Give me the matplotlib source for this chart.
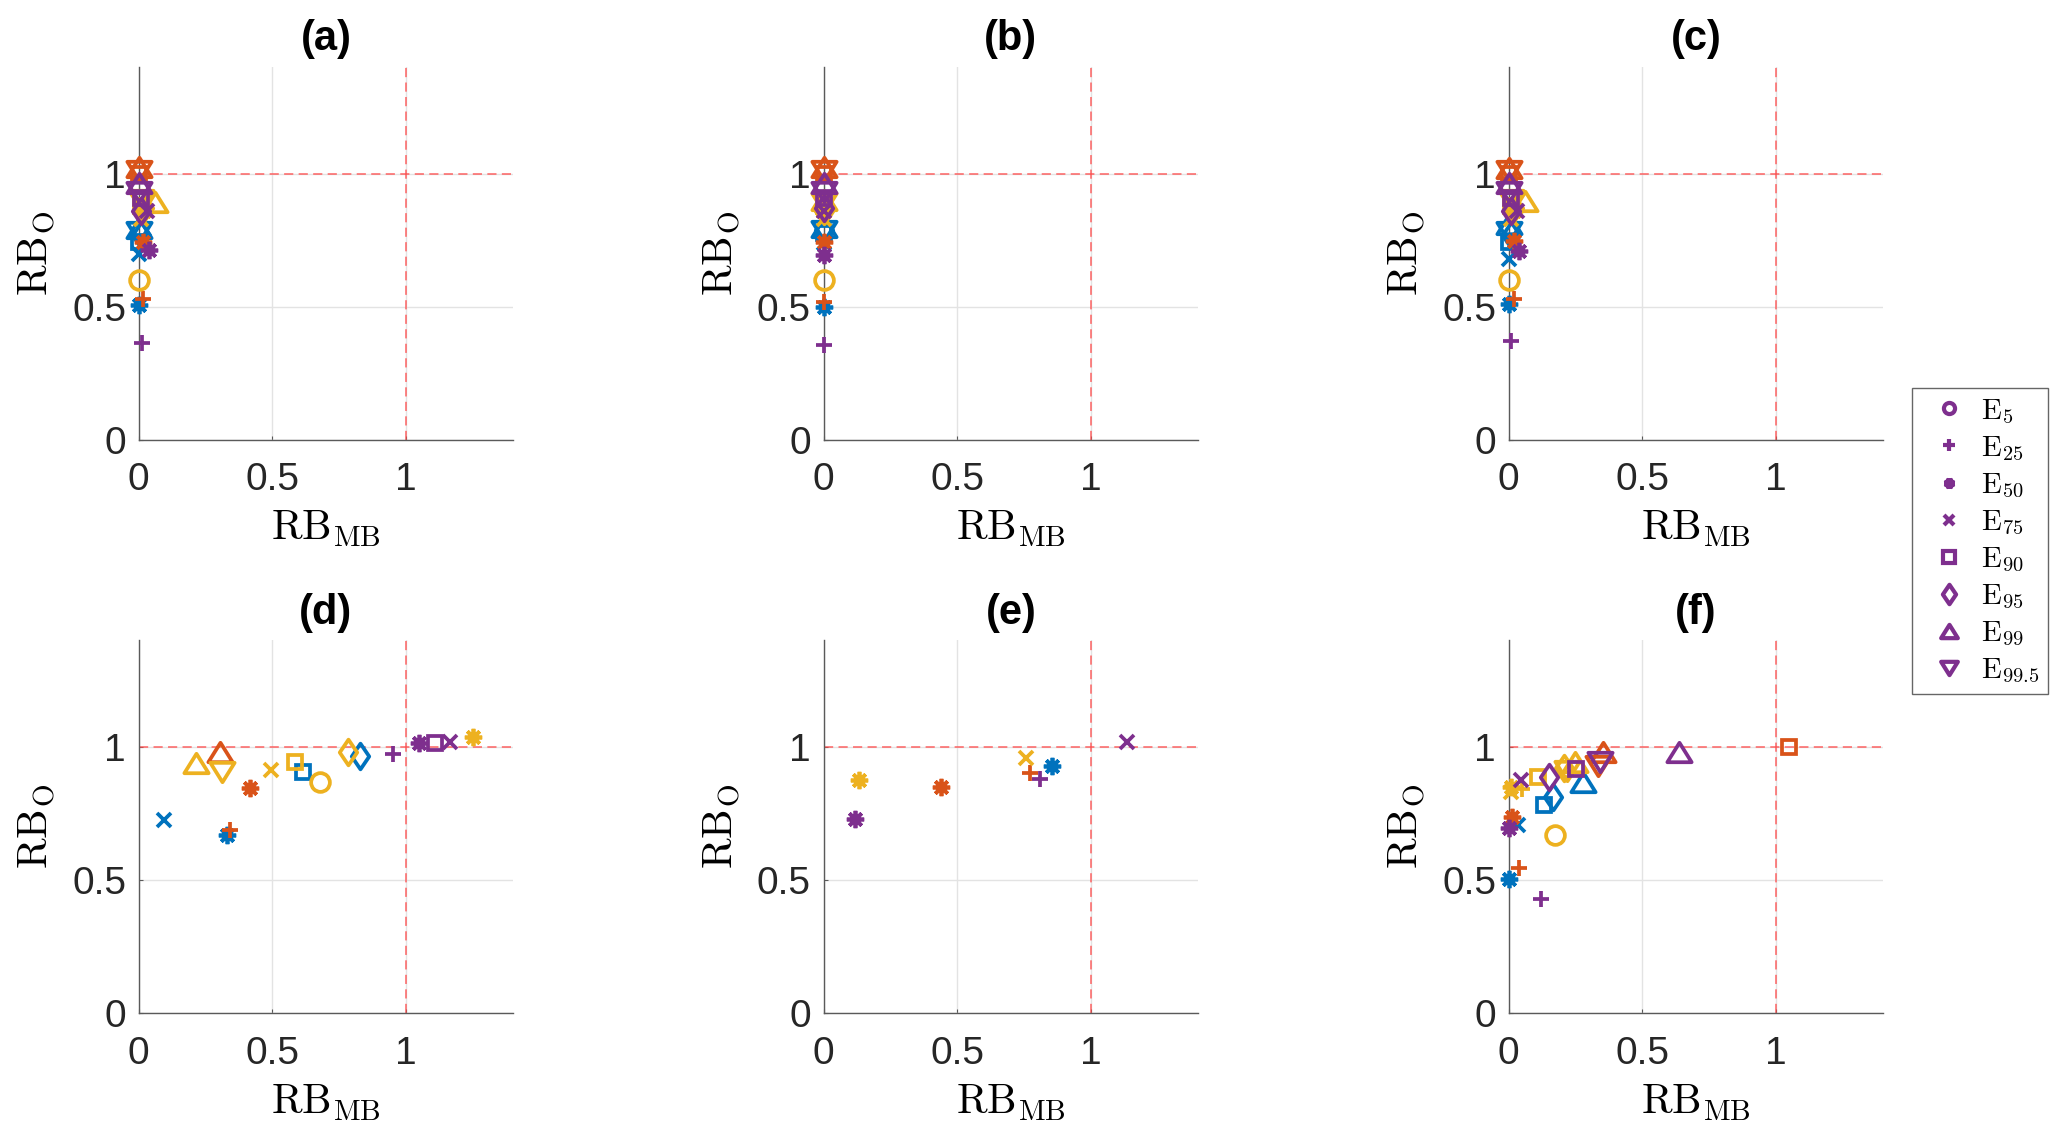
import numpy as np
import matplotlib.pyplot as plt
from matplotlib.path import Path
from matplotlib.lines import Line2D

plt.rcParams['font.family'] = ['Liberation Sans', 'DejaVu Sans']
plt.rcParams['mathtext.fontset'] = 'cm'

N = np.nan

# order of the markers / levels
levels = [r'$\mathrm{E}_{5}$', r'$\mathrm{E}_{25}$', r'$\mathrm{E}_{50}$', r'$\mathrm{E}_{75}$',
          r'$\mathrm{E}_{90}$', r'$\mathrm{E}_{95}$', r'$\mathrm{E}_{99}$', r'$\mathrm{E}_{99.5}$']
titles = ['(a)', '(b)', '(c)', '(d)', '(e)', '(f)']
colors = ['#0072BD', '#D95319', '#EDB120', '#7E2F8E']

# rows = blue, orange, yellow, purple ; cols = E5 E25 E50 E75 E90 E95 E99 E99.5
a_x = [[N, N, 0.0, 0.0, 0.0, 0.01, 0.0, 0.0],
       [N, 0.016, 0.016, N, 0.0, N, 0.0, 0.0],
       [0.0, 0.02, 0.02, 0.01, 0.01, 0.02, 0.06, 0.01],
       [N, 0.014, 0.04, 0.03, 0.01, 0.01, 0.0, 0.0]]
a_y = [[N, N, 0.506, 0.70, 0.745, 0.77, 0.795, 0.78],
       [N, 0.531, 0.744, N, 1.0, N, 1.025, 1.01],
       [0.60, 0.84, 0.86, 0.83, 0.88, 0.87, 0.894, 0.90],
       [N, 0.363, 0.712, 0.86, 0.91, 0.86, 0.964, 0.93]]

b_x = [[N, N, 0.0, 0.0, 0.0, 0.0, 0.0, 0.0],
       [N, 0.0, 0.0, N, 0.0, N, 0.0, 0.0],
       [0.0, 0.0, 0.0, 0.0, 0.0, 0.0, 0.0, 0.0],
       [N, 0.0, 0.0, 0.0, 0.0, 0.0, 0.0, 0.0]]
b_y = [[N, N, 0.50, 0.74, 0.776, 0.79, 0.80, 0.785],
       [N, 0.519, 0.744, N, 1.0, N, 1.025, 1.01],
       [0.60, 0.84, 0.87, 0.83, 0.88, 0.86, 0.90, 0.89],
       [N, 0.356, 0.694, 0.86, 0.91, 0.87, 0.964, 0.93]]

c_x = [[N, N, 0.0, 0.0, 0.0, 0.01, 0.0, 0.0],
       [N, 0.02, 0.022, N, 0.0, N, 0.0, 0.0],
       [0.0, 0.02, 0.02, 0.01, 0.01, 0.02, 0.06, 0.01],
       [N, 0.01, 0.04, 0.03, 0.01, 0.01, 0.0, 0.0]]
c_y = [[N, N, 0.51, 0.681, 0.745, 0.77, 0.81, 0.78],
       [N, 0.53, 0.748, N, 1.0, N, 1.02, 1.01],
       [0.60, 0.84, 0.86, 0.83, 0.88, 0.87, 0.897, 0.90],
       [N, 0.37, 0.711, 0.86, 0.91, 0.86, 0.966, 0.93]]

d_x = [[N, N, 0.33, 0.097, 0.616, 0.828, N, N],
       [N, 0.34, 0.415, N, N, N, 0.305, N],
       [0.679, N, 1.249, 0.496, 0.583, 0.784, 0.216, 0.313],
       [N, 0.95, 1.047, 1.162, 1.106, N, N, N]]
d_y = [[N, N, 0.669, 0.726, 0.907, 0.964, N, N],
       [N, 0.688, 0.845, N, N, N, 0.982, N],
       [0.870, N, 1.036, 0.914, 0.942, 0.979, 0.939, 0.907],
       [N, 0.973, 1.016, 1.02, 1.016, N, N, N]]

e_x = [[N, N, 0.853, N, N, N, N, N],
       [N, 0.772, 0.44, N, N, N, N, N],
       [N, N, 0.132, 0.757, N, N, N, N],
       [N, 0.807, 0.116, 1.133, N, N, N, N]]
e_y = [[N, N, 0.929, N, N, N, N, N],
       [N, 0.901, 0.848, N, N, N, N, N],
       [N, N, 0.876, 0.958, N, N, N, N],
       [N, 0.879, 0.728, 1.02, N, N, N, N]]

f_x = [[N, N, 0.0, 0.035, 0.134, 0.166, 0.278, N],
       [N, 0.041, 0.014, N, 1.047, N, 0.353, 0.335],
       [0.172, 0.05, 0.01, 0.01, 0.11, 0.209, 0.247, 0.22],
       [N, 0.12, 0.0, 0.047, 0.253, 0.153, 0.636, 0.34]]
f_y = [[N, N, 0.503, 0.707, 0.782, 0.811, 0.87, N],
       [N, 0.544, 0.738, N, 1.0, N, 0.982, 0.93],
       [0.669, 0.84, 0.851, 0.83, 0.886, 0.92, 0.945, 0.91],
       [N, 0.429, 0.694, 0.876, 0.916, 0.888, 0.982, 0.945]]

panels_x = [a_x, b_x, c_x, d_x, e_x, f_x]
panels_y = [a_y, b_y, c_y, d_y, e_y, f_y]


def poly(pts):
    return Path(pts + [pts[0]], closed=True)


diamond = poly([(0, 1), (0.68, 0), (0, -1), (-0.68, 0)])
tri_up = poly([(0, 0.8), (-1, -0.8), (1, -0.8)])
tri_dn = poly([(0, -0.8), (1, 0.8), (-1, 0.8)])
asterisk = (8, 2, 0)

markers = ['o', '+', asterisk, 'x', 's', diamond, tri_up, tri_dn]
msizes = [13.5, 11.5, 12.5, 10, 10.5, 18.5, 17.5, 17.5]
leg_sizes = [8, 8.5, 7.5, 7, 8, 14, 12, 12]

fig = plt.figure(figsize=(20.67, 11.40), dpi=100)

lefts = [138.5, 823.5, 1508.5]
bottoms = [440, 1013.3]
W, H = 2067.0, 1140.0
aw = 374.8
ah = 373.0

axes = []
for r in range(2):
    for c in range(3):
        ax = fig.add_axes([lefts[c] / W, 1 - bottoms[r] / H, aw / W, ah / H])
        axes.append(ax)

for i, ax in enumerate(axes):
    ax.set_xlim(0, 1.4)
    ax.set_ylim(0, 1.4)
    ax.set_xticks([0, 0.5, 1])
    ax.set_yticks([0, 0.5, 1])
    ax.set_xticklabels(['0', '0.5', '1'])
    ax.set_yticklabels(['0', '0.5', '1'])
    ax.grid(True, color='#e3e3e3', lw=1.0, zorder=0)
    ax.set_axisbelow(True)
    for s in ['top', 'right']:
        ax.spines[s].set_visible(False)
    for s in ['left', 'bottom']:
        ax.spines[s].set_color('#5a5a5a')
        ax.spines[s].set_linewidth(1.0)
    ax.tick_params(direction='in', length=3, width=0.8, color='#5a5a5a',
                   labelcolor='#262626', labelsize=28)
    ax.tick_params(axis='x', pad=16)
    ax.tick_params(axis='y', pad=9)

    ax.axhline(1, color='#ff4a4a', lw=1.1, dashes=(6, 3.5), alpha=0.85, zorder=2)
    ax.axvline(1, color='#ff4a4a', lw=1.1, dashes=(6, 3.5), alpha=0.85, zorder=2)

    px = panels_x[i]
    py = panels_y[i]
    for c in range(4):
        for m in range(8):
            ax.plot(px[c][m], py[c][m], ls='none', marker=markers[m], ms=msizes[m],
                    mec=colors[c], mfc='none', mew=2.7, clip_on=False, zorder=3)

    ax.set_title(titles[i], fontsize=30, fontweight='bold', pad=12)
    ax.set_xlabel(r'$\mathrm{RB}_{\mathrm{MB}}$', fontsize=30, labelpad=8)
    ax.set_ylabel(r'$\mathrm{RB}_{\mathrm{O}}$', fontsize=30, labelpad=10)

handles = []
for m in range(8):
    mew = 4.0 if m == 2 else 3.0
    handles.append(Line2D([], [], ls='none', marker=markers[m], ms=leg_sizes[m],
                          mec=colors[3], mfc='none', mew=mew))

leg = fig.legend(handles, levels, loc='center', bbox_to_anchor=(1980 / W, 1 - 541 / H),
                 fontsize=21, frameon=True, fancybox=False, framealpha=1,
                 borderpad=0.3, handlelength=1.9, handletextpad=0.15, labelspacing=0.28)
leg.get_frame().set_edgecolor('#666666')
leg.get_frame().set_linewidth(1.0)

fig.savefig('out.png', dpi=100)
